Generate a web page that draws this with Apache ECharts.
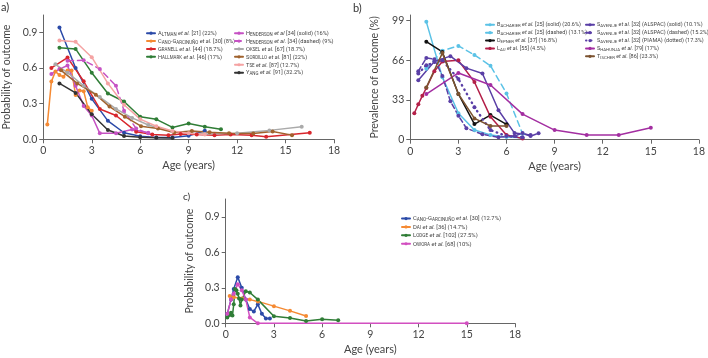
<!DOCTYPE html>
<html>
<head>
<meta charset="utf-8">
<script src="https://cdn.jsdelivr.net/npm/echarts@6/dist/echarts.min.js"></script>
<style>
  html, body { margin: 0; padding: 0; background: #fff; }
  #chart { width: 708px; height: 358px; }
</style>
</head>
<body>
<div id="chart"></div>
<script>
// ---- panel a: probability of outcome ----
const altman = [[1, 0.94], [2, 0.6], [3, 0.34], [4, 0.155], [5, 0.055], [6, 0.025], [7, 0.015], [8, 0.015], [9, 0.03], [10, 0.072]]
const canoA = [[0.25, 0.125], [0.5, 0.485], [0.75, 0.57], [1, 0.54], [1.25, 0.525], [1.5, 0.578], [1.75, 0.578], [2, 0.372], [2.25, 0.41], [2.5, 0.405], [2.75, 0.27], [3, 0.24]]
const granell = [[0.5, 0.6], [1.5, 0.687], [2.5, 0.488], [3.5, 0.255], [4.5, 0.2], [5.75, 0.064], [6.75, 0.04], [7.75, 0.034], [8.5, 0.045], [9.5, 0.04], [10.6, 0.035], [11.6, 0.04], [12.9, 0.034], [13.8, 0.022], [16.5, 0.055]]
const hallmark = [[1, 0.77], [2, 0.76], [3, 0.56], [4, 0.385], [5, 0.318], [6, 0.19], [7, 0.168], [8, 0.1], [9, 0.132], [10, 0.106], [11, 0.084]]
const hendersonSolid = [[0.5, 0.55], [1, 0.59], [1.5, 0.62], [2, 0.45], [2.5, 0.28], [3, 0.2], [3.5, 0.05], [4.5, 0.05], [5.5, 0.082], [6.5, 0.055]]
const hendersonDashed = [[1.5, 0.66], [2.5, 0.665], [3.5, 0.59], [4.5, 0.45], [5, 0.24], [5.75, 0.09], [6.5, 0.05]]
const oksel = [[0.75, 0.63], [1.5, 0.56], [2.5, 0.45], [3.5, 0.355], [4.5, 0.255], [5.5, 0.18], [6.5, 0.12], [8, 0.065], [10, 0.045], [12, 0.05], [14, 0.075], [16, 0.105]]
const sordillo = [[1.1, 0.58], [2.1, 0.47], [3.25, 0.375], [4.1, 0.275], [5.05, 0.19], [6.05, 0.11], [7.1, 0.09], [8.1, 0.058], [9.2, 0.07], [10.3, 0.06], [11.5, 0.05], [13, 0.048], [14.2, 0.065], [15.4, 0.035]]
const tse = [[1, 0.83], [2, 0.82], [3, 0.69], [4, 0.47], [5, 0.29], [6, 0.17], [7, 0.11], [8, 0.07], [9, 0.05], [10, 0.04]]
const yang = [[1, 0.47], [2, 0.39], [3, 0.21], [4, 0.078], [5, 0.028], [6, 0.017], [7, 0.014], [8, 0.01]]

// ---- panel b: prevalence of outcome (%) ----
const bacharierSolid = [[1, 98], [2, 52], [3, 22], [4, 8], [5, 4], [6, 2.2], [7, 1.7]]
const bacharierDashed = [[1, 59], [2, 74], [3, 78], [4, 70.5], [5, 61.5], [6, 38.5], [7, 5]]
const depner = [[1, 81.5], [2, 73], [3, 38], [4, 13], [5, 20.5], [6, 12.8]]
const lau = [[0.25, 22], [0.5, 29.5], [0.75, 36.5], [1, 43], [1.5, 57], [2, 65], [3, 66], [4, 48], [5, 19], [6, 4], [7, 1]]
const savenijeSolid = [[0.5, 49.5], [1.5, 65], [2.5, 69.5], [3.5, 59.5], [4.5, 55], [5.5, 24.5], [6.5, 5.5], [7.5, 4]]
const savenijeDashed = [[0.5, 57], [1, 68], [1.5, 67], [2, 53], [2.5, 32], [3, 20], [3.5, 9.5], [4.5, 4.5], [5.5, 2], [6.5, 3], [7, 5.5], [7.5, 3], [8, 5.3]]
const savenijeDotted = [[0.5, 55], [1, 62], [2, 66], [3, 50.5], [4, 27], [5, 8], [6, 3], [7, 2]]
const shahunja = [[1, 38], [3, 55.5], [5, 45.5], [7, 21.3], [9, 8], [11, 3.9], [13, 3.9], [15, 10]]
const tischer = [[1, 43.5], [2, 72], [3, 38], [4, 17.7], [5, 11.4], [6, 11.4]]

// ---- panel c: probability of outcome ----
const canoC = [[0.1, 0.08], [0.33, 0.2], [0.5, 0.29], [0.75, 0.39], [1, 0.3], [1.25, 0.2], [1.5, 0.12], [1.75, 0.1], [2, 0.16], [2.25, 0.08], [2.5, 0.04], [2.75, 0.04]]
const dai = [[0.25, 0.23], [0.5, 0.22], [1, 0.21], [1.5, 0.2], [2, 0.185], [3, 0.145], [4, 0.105], [5, 0.062]]
const lodge = [[0.1, 0.05], [0.25, 0.07], [0.33, 0.09], [0.42, 0.065], [0.5, 0.16], [0.58, 0.29], [0.67, 0.28], [0.75, 0.25], [0.83, 0.21], [0.92, 0.15], [1, 0.2], [1.25, 0.27], [1.5, 0.26], [2, 0.2], [3, 0.06], [4, 0.045], [5, 0.02], [6, 0.035], [7, 0.025]]
const owora = [[0.1, 0.08], [0.33, 0.2], [0.5, 0.25], [0.75, 0.33], [1, 0.28], [1.25, 0.2], [1.5, 0.05], [2, 0], [15, 0]]

const probTicks = [0, 0.3, 0.6, 0.9]
const prevTicks = [0, 33, 66, 99]

const FONT = 'Lato'
const LEGEND_FONT = 'Roboto'
const axisColor = '#666'
const textColor = '#444'

// small caps author names for the legends
const capsLabel = (name) => {
  const m = name.match(/^(\S+)( et al\.?)(.*)$/)
  if (!m) return '{t|' + name + '}'
  let out = ''
  for (const ch of m[1]) {
    if (ch === ch.toUpperCase() && ch !== ch.toLowerCase()) out += '{c|' + ch + '}'
    else if (ch === '-') out += '{c|-}'
    else out += '{s|' + ch.toUpperCase() + '}'
  }
  return out + '{i|' + m[2] + '}{t|' + m[3] + '}'
}

const legendRich = (fs) => {
  const base = { fontFamily: LEGEND_FONT, color: textColor, lineHeight: fs + 1, verticalAlign: 'bottom' }
  return {
    c: Object.assign({}, base, { fontSize: fs }),
    s: Object.assign({}, base, { fontSize: fs * 0.78 }),
    i: Object.assign({}, base, { fontSize: fs, fontStyle: 'italic' }),
    t: Object.assign({}, base, { fontSize: fs })
  }
}

const makeLegend = (names, left, top, fs, gap) => ({
  orient: 'vertical',
  left: left,
  top: top,
  data: names,
  itemWidth: 8,
  itemHeight: 4,
  itemGap: gap,
  padding: 0,
  formatter: capsLabel,
  textStyle: { rich: legendRich(fs), padding: [0, 0, 0, -2] }
})

const line = (name, data, color, idx, dash, width) => ({
  name: name,
  type: 'line',
  xAxisIndex: idx,
  yAxisIndex: idx,
  data: data,
  symbol: 'circle',
  symbolSize: 4,
  color: color,
  lineStyle: { color: color, width: width || 1.5, type: dash || 'solid', cap: 'round' },
  itemStyle: { color: color },
  emphasis: { disabled: true },
  animation: false
})

const xAxis = (idx) => ({
  type: 'value',
  gridIndex: idx,
  min: 0,
  max: 18,
  interval: 3,
  name: 'Age (years)',
  nameLocation: 'middle',
  nameGap: 21,
  nameTextStyle: { fontFamily: FONT, fontSize: 11, color: textColor },
  axisLine: { show: true, lineStyle: { color: axisColor } },
  axisTick: { show: true, length: 4, lineStyle: { color: axisColor } },
  axisLabel: { fontFamily: FONT, fontSize: 10.5, color: textColor, margin: 6 },
  splitLine: { show: false }
})

const yAxis = (idx, name, max, ticks, fmt) => ({
  type: 'value',
  gridIndex: idx,
  min: 0,
  max: max,
  name: name,
  nameLocation: 'middle',
  nameGap: idx === 1 ? 30 : 31,
  nameTextStyle: { fontFamily: FONT, fontSize: 10.5, color: textColor },
  axisLine: { show: true, lineStyle: { color: axisColor } },
  axisTick: { show: true, length: 4, lineStyle: { color: axisColor }, customValues: ticks },
  axisLabel: { fontFamily: FONT, fontSize: 10.5, color: textColor, margin: 6, customValues: ticks, formatter: fmt },
  splitLine: { show: false }
})

const chart = echarts.init(document.getElementById('chart'), null, { renderer: 'canvas' })

const namesA1 = ['Altman et al. [21] (22%)', 'Cano-Garcinuño et al. [30] (8%)', 'Granell et al. [44] (18.7%)', 'Hallmark et al. [46] (17%)']
const namesA2 = ['Henderson et al [34] (solid) (16%)', 'Henderson et al. [34] (dashed) (9%)', 'Oksel et al. [67] (18.7%)', 'Sordillo et al. [81] (22%)', 'Tse et al. [87] (12.7%)', 'Yang et al. [91] (32.2%)']
const namesB1 = ['Bacharier et al. [25] (solid) (20.6%)', 'Bacharier et al. [25] (dashed) (13.1%)', 'Depner et al. [37] (16.8%)', 'Lau et al. [55] (4.5%)']
const namesB2 = ['Savenije et al. [32] (ALSPAC) (solid) (10.1%)', 'Savenije et al. [32] (ALSPAC) (dashed) (15.2%)', 'Savenije et al. [32] (PIAMA) (dotted) (17.3%)', 'Shahunja et al. [79] (17%)', 'Tischer et al. [86] (23.3%)']
const namesC = ['Cano-Garcinuño et al. [30] (12.7%) ', 'Dai et al. [36] (14.7%)', 'Lodge et al. [102] (27.5%)', 'Owora et al. [68] (10%)']

const option = {
  backgroundColor: '#fff',
  animation: false,
  grid: [
    { left: 43.3, top: 15, width: 290.7, height: 124.3 },
    { left: 410.3, top: 15, width: 291.4, height: 124.7 },
    { left: 225.7, top: 199, width: 289.3, height: 124.3 }
  ],
  xAxis: [xAxis(0), xAxis(1), xAxis(2)],
  yAxis: [
    yAxis(0, 'Probability of outcome', 1.045, probTicks, (v) => v.toFixed(1)),
    yAxis(1, 'Prevalence of outcome (%)', 103.7, prevTicks, (v) => String(v)),
    yAxis(2, 'Probability of outcome', 1.05, probTicks, (v) => v.toFixed(1))
  ],
  legend: [
    makeLegend(namesA1, 146, 30.5, 5.7, 1.9),
    makeLegend(namesA2, 234, 30.5, 5.7, 1.9),
    makeLegend(namesB1, 485, 22, 5.5, 1.9),
    makeLegend(namesB2, 585, 22, 5.5, 1.9),
    makeLegend(namesC, 401, 216, 5.9, 2.4)
  ],
  graphic: [
    { type: 'text', left: 1, top: 2, style: { text: 'a)', font: '11px Lato', fill: '#333' } },
    { type: 'text', left: 353, top: 3, style: { text: 'b)', font: '11px Lato', fill: '#333' } },
    { type: 'text', left: 183, top: 192, style: { text: 'c)', font: '10px Lato', fill: '#333' } }
  ],
  series: [
    line(namesA1[0], altman, '#2b4aa8', 0),
    line(namesA1[1], canoA, '#f58a33', 0),
    line(namesA1[2], granell, '#d8262c', 0),
    line(namesA1[3], hallmark, '#2f7d36', 0),
    line(namesA2[0], hendersonSolid, '#c652c4', 0),
    line(namesA2[1], hendersonDashed, '#c652c4', 0, [6, 4]),
    line(namesA2[2], oksel, '#aaaaaa', 0),
    line(namesA2[3], sordillo, '#a0632e', 0),
    line(namesA2[4], tse, '#f5a3a3', 0),
    line(namesA2[5], yang, '#333333', 0),

    line(namesB1[0], bacharierSolid, '#5bc2e6', 1),
    line(namesB1[1], bacharierDashed, '#5bc2e6', 1, [6, 4]),
    line(namesB1[2], depner, '#111111', 1),
    line(namesB1[3], lau, '#b31f48', 1),
    line(namesB2[0], savenijeSolid, '#5a3fa6', 1),
    line(namesB2[1], savenijeDashed, '#5a3fa6', 1, [5, 3]),
    line(namesB2[2], savenijeDotted, '#5a3fa6', 1, [0.5, 4.5], 2.4),
    line(namesB2[3], shahunja, '#a32ea1', 1),
    line(namesB2[4], tischer, '#7c5330', 1),

    line(namesC[0], canoC, '#2b4aa8', 2),
    line(namesC[1], dai, '#f58a33', 2),
    line(namesC[2], lodge, '#2f7d36', 2),
    line(namesC[3], owora, '#d24fc0', 2)
  ]
}

chart.setOption(option)
</script>
</body>
</html>
